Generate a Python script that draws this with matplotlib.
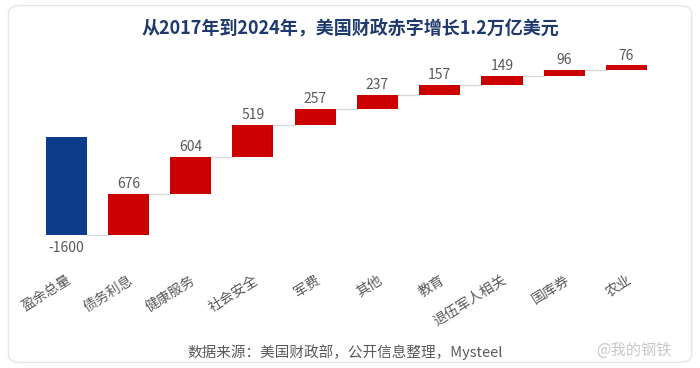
import matplotlib
matplotlib.use('Agg')
import matplotlib.pyplot as plt
from matplotlib.patches import FancyBboxPatch

plt.rcParams['font.family'] = ['Noto Sans CJK SC', 'DejaVu Sans']

categories = ['盈余总量', '债务利息', '健康服务', '社会安全', '军费', '其他', '教育', '退伍军人相关', '国库券', '农业']
values = [-1600, 676, 604, 519, 257, 237, 157, 149, 96, 76]

title = '从2017年到2024年，美国财政赤字增长1.2万亿美元'
source = '数据来源：美国财政部，公开信息整理，Mysteel'

blue = '#0E3C8C'
red = '#CC0000'
gray = '#595959'

fig = plt.figure(figsize=(7, 3.68), dpi=100)
ax = fig.add_axes([0.0499, 0.3114, 0.8896, 0.5326])

# waterfall: first bar from 0 down, then stack upward
bottoms, heights = [], []
level = 0
for i, v in enumerate(values):
    if i == 0:
        bottoms.append(v)
        heights.append(-v)
        level = v
    else:
        bottoms.append(level)
        heights.append(v)
        level += v

colors = [blue] + [red] * (len(values) - 1)
x = list(range(len(values)))
w = 0.66
ax.bar(x, heights, bottom=bottoms, width=w, color=colors, zorder=3)

# connector lines
level = values[0]
for i in range(len(values) - 1):
    ax.plot([i + w / 2, i + 1 - w / 2], [level, level], color='#D9D9D9', lw=1, zorder=2)
    level += values[i + 1]

# value labels
for i, v in enumerate(values):
    if i == 0:
        ax.annotate(str(v), (i, v), xytext=(0, -4), textcoords='offset points',
                    ha='center', va='top', fontsize=10, color=gray)
    else:
        ax.annotate(str(v), (i, bottoms[i] + heights[i]), xytext=(0, 2), textcoords='offset points',
                    ha='center', va='bottom', fontsize=10, color=gray)

ax.set_xlim(-0.5, len(values) - 0.5)
ax.set_ylim(-1900, 1300)
ax.set_xticks(x)
ax.set_xticklabels(categories, rotation=32, ha='right', rotation_mode='anchor',
                   fontsize=10, color=gray)
ax.tick_params(axis='x', length=0, pad=14)
ax.set_yticks([])
for s in ax.spines.values():
    s.set_visible(False)

fig.text(0.5, 0.925, title, ha='center', va='center', fontsize=13,
         fontweight='bold', color='#1F3A6E')
fig.text(0.493, 0.043, source, ha='center', va='center', fontsize=10.5, color=gray)
fig.text(0.905, 0.048, '@我的钢铁', ha='center', va='center', fontsize=11, color='#C8C8C8')

border = FancyBboxPatch((0.012, 0.015), 0.976, 0.97, boxstyle='round,pad=0,rounding_size=0.02',
                        transform=fig.transFigure, fill=False, ec='#E6E6E6', lw=1)
fig.patches.append(border)

fig.savefig('out.png', dpi=100)
